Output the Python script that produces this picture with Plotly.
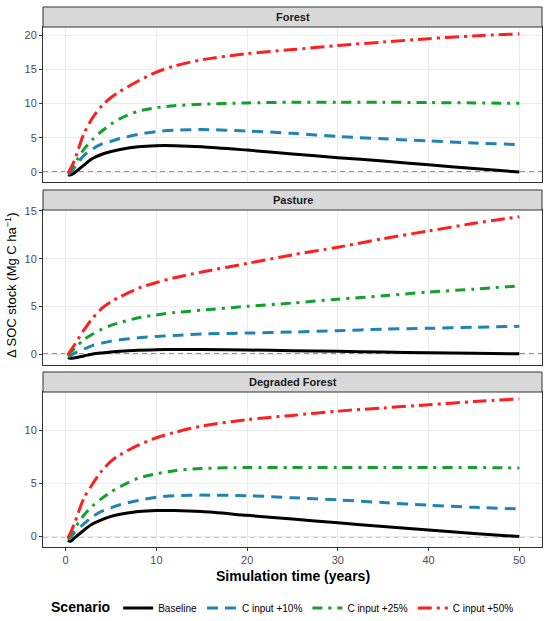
import plotly.graph_objects as go

years = [0.25, 0.5, 1, 2, 3, 4, 5, 6, 8, 10, 12, 15, 20, 25, 30, 35, 40, 45, 50]

scenarios = ["Baseline", "C input +10%", "C input +25%", "C input +50%"]
panels = ["Forest", "Pasture", "Degraded Forest"]

# Forest
forest_base = [-0.4, -0.45, -0.1, 1.0, 2.0, 2.6, 3.0, 3.3, 3.7, 3.85, 3.85, 3.7, 3.2, 2.65, 2.1, 1.6, 1.05, 0.5, 0.0]
forest_10 = [-0.3, -0.1, 0.7, 2.4, 3.4, 4.1, 4.5, 4.9, 5.5, 5.9, 6.1, 6.2, 6.0, 5.65, 5.2, 4.85, 4.55, 4.25, 4.0]
forest_25 = [-0.2, 0.2, 1.2, 3.3, 4.8, 6.0, 7.0, 7.8, 8.9, 9.4, 9.7, 9.9, 10.1, 10.2, 10.2, 10.2, 10.15, 10.1, 10.05]
forest_50 = [-0.2, 0.4, 1.8, 5.6, 8.0, 9.7, 10.9, 11.8, 13.3, 14.6, 15.5, 16.4, 17.3, 17.9, 18.5, 19.0, 19.5, 19.9, 20.2]

# Pasture
pasture_base = [-0.35, -0.45, -0.4, -0.2, 0.0, 0.12, 0.22, 0.3, 0.4, 0.45, 0.48, 0.48, 0.42, 0.35, 0.28, 0.2, 0.13, 0.07, 0.03]
pasture_10 = [-0.3, -0.2, 0.1, 0.5, 0.9, 1.15, 1.35, 1.5, 1.7, 1.85, 1.95, 2.1, 2.2, 2.3, 2.45, 2.6, 2.7, 2.8, 2.9]
pasture_25 = [-0.2, 0.1, 0.6, 1.5, 2.1, 2.6, 3.0, 3.3, 3.8, 4.1, 4.35, 4.6, 5.0, 5.35, 5.75, 6.1, 6.5, 6.8, 7.15]
pasture_50 = [-0.1, 0.3, 1.0, 2.5, 3.8, 4.8, 5.5, 6.0, 6.9, 7.5, 8.0, 8.6, 9.5, 10.4, 11.2, 12.1, 12.9, 13.7, 14.4]

# Degraded Forest
degraded_base = [-0.35, -0.45, -0.1, 0.6, 1.2, 1.6, 1.9, 2.1, 2.35, 2.45, 2.45, 2.35, 2.0, 1.65, 1.3, 0.95, 0.62, 0.3, 0.0]
degraded_10 = [-0.3, -0.1, 0.4, 1.2, 1.9, 2.4, 2.7, 3.0, 3.4, 3.7, 3.85, 3.9, 3.85, 3.65, 3.45, 3.2, 2.95, 2.75, 2.6]
degraded_25 = [-0.2, 0.1, 0.8, 2.0, 2.9, 3.6, 4.2, 4.7, 5.5, 5.9, 6.2, 6.4, 6.5, 6.5, 6.5, 6.5, 6.5, 6.5, 6.45]
degraded_50 = [-0.1, 0.3, 1.3, 3.6, 5.0, 6.2, 7.1, 7.7, 8.6, 9.3, 9.8, 10.4, 11.0, 11.4, 11.8, 12.1, 12.4, 12.7, 12.95]

panel_data = [
    [forest_base, forest_10, forest_25, forest_50],
    [pasture_base, pasture_10, pasture_25, pasture_50],
    [degraded_base, degraded_10, degraded_25, degraded_50],
]

colors = ["#000000", "#1F83B4", "#12A12A", "#FF1F1F"]
dashes = ["solid", "11px,7px", "10px,6px,3px,6px", "14px,5px,3px,5px"]

FONT = "Liberation Sans, Arial, sans-serif"
W, H = 550, 621
left, right = 43, 542
top_px, bottom_px = 7, 547
# pixel rows of each panel (strip top, plot top, plot bottom)
panel_px = [(7, 27, 182), (190, 210, 365), (372, 392, 547)]


def fy(px):
    return (bottom_px - px) / (bottom_px - top_px)


fig = go.Figure()
shapes = []
annotations = []

for i, name in enumerate(panels):
    ax = "" if i == 0 else str(i + 1)
    for j, sc in enumerate(scenarios):
        fig.add_trace(go.Scatter(
            x=years, y=panel_data[i][j], mode="lines", name=sc,
            line=dict(color=colors[j], width=3, dash=dashes[j], shape="spline", smoothing=0.8),
            legendgroup=sc, showlegend=(i == 0),
            xaxis="x" + ax, yaxis="y" + ax,
        ))
    s_top, p_top, p_bot = panel_px[i]
    # zero reference line
    shapes.append(dict(type="line", xref="x" + ax + " domain", yref="y" + ax,
                       x0=0, x1=1, y0=0, y1=0,
                       line=dict(color="#222222", width=1.2, dash="5px,4px"), layer="below"))
    # strip
    shapes.append(dict(type="rect", xref="paper", yref="paper",
                       x0=0, x1=1, y0=fy(p_top), y1=fy(s_top),
                       fillcolor="#D9D9D9", line=dict(color="#333333", width=1)))
    annotations.append(dict(text="<b>" + name + "</b>", xref="paper", yref="paper",
                            x=0.5, y=(fy(p_top) + fy(s_top)) / 2,
                            xanchor="center", yanchor="middle", showarrow=False,
                            font=dict(family=FONT, size=11, color="#1A1A1A")))

    fig.layout["xaxis" + ax] = dict(
        domain=[0, 1], range=[-2.5, 52.5], anchor="y" + ax,
        tickvals=[0, 10, 20, 30, 40, 50], showticklabels=(i == 2),
        ticks="outside" if i == 2 else "", ticklen=3, tickcolor="#333333",
        showgrid=True, gridcolor="#EBEBEB", gridwidth=1, zeroline=False,
        showline=True, mirror=True, linecolor="#333333", linewidth=1,
        tickfont=dict(family=FONT, size=11, color="#4D4D4D"),
        matches=None if i == 0 else "x",
    )

y_ranges = [[-1.46, 21.2], [-1.15, 15.1], [-0.98, 13.6]]
y_ticks = [[0, 5, 10, 15, 20], [0, 5, 10, 15], [0, 5, 10]]
for i in range(3):
    ax = "" if i == 0 else str(i + 1)
    s_top, p_top, p_bot = panel_px[i]
    fig.layout["yaxis" + ax] = dict(
        domain=[fy(p_bot), fy(p_top)], range=y_ranges[i], anchor="x" + ax,
        tickvals=y_ticks[i], ticks="outside", ticklen=3, tickcolor="#333333",
        showgrid=True, gridcolor="#EBEBEB", gridwidth=1, zeroline=False,
        showline=True, mirror=True, linecolor="#333333", linewidth=1,
        tickfont=dict(family=FONT, size=11, color="#4D4D4D"),
    )

annotations.append(dict(text="<b>Simulation time (years)</b>", xref="paper", yref="paper",
                        x=0.5, y=fy(576), xanchor="center", yanchor="middle", showarrow=False,
                        font=dict(family=FONT, size=14, color="#000000")))
annotations.append(dict(text="Δ SOC stock (Mg C ha<sup>−1</sup>)", xref="paper", yref="paper",
                        x=(11 - left) / (right - left), y=fy(285), xanchor="center", yanchor="middle",
                        textangle=-90, showarrow=False,
                        font=dict(family=FONT, size=13, color="#000000")))

fig.update_layout(
    width=W, height=H,
    margin=dict(l=left, r=W - right, t=top_px, b=H - bottom_px, autoexpand=False),
    paper_bgcolor="white", plot_bgcolor="white",
    shapes=shapes, annotations=annotations,
    showlegend=True,
    legend=dict(orientation="h", x=0.483, xanchor="center", y=fy(608), yanchor="middle",
                title=dict(text="<b>Scenario</b>", font=dict(family=FONT, size=14, color="#000000")),
                font=dict(family=FONT, size=10, color="#000000"),
                itemwidth=30, tracegroupgap=0),
    font=dict(family=FONT),
)

# page body has a default 8px margin; drop it so the figure sits at the corner
fig.write_html("out.html", config={"displayModeBar": False},
               post_script="document.body.style.margin='0';")
